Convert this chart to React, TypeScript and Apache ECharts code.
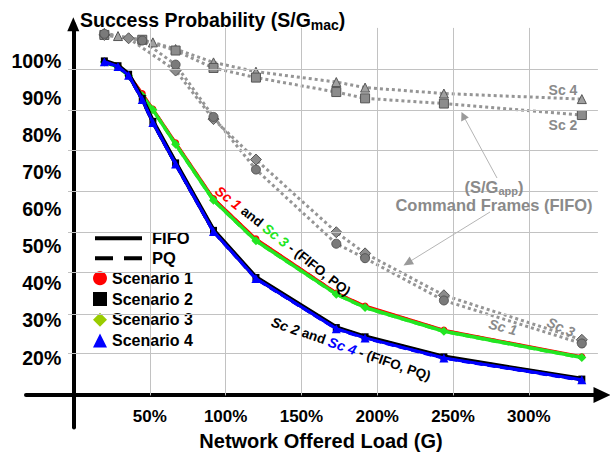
import React, { useEffect, useRef } from "react";
import * as echarts from "echarts";

// ---------- data ----------
const loadX = [20, 29, 36, 45, 52, 67, 92, 120, 173, 192, 244, 335];

const sc1Fifo = [99.9, 98.6, 96.3, 91.2, 87.0, 77.9, 62.9, 52.0, 37.4, 33.9, 27.4, 20.2];
const sc1Pq = [99.8, 98.5, 96.2, 91.0, 86.9, 77.8, 62.8, 51.9, 37.4, 33.8, 27.3, 20.1];
const sc3Fifo = [99.7, 98.4, 96.0, 90.6, 86.8, 77.5, 62.4, 51.5, 37.1, 33.5, 27.1, 20.0];
const sc3Pq = [99.6, 98.3, 95.9, 90.5, 86.7, 77.4, 62.3, 51.4, 37.0, 33.4, 27.0, 19.9];
const sc2Fifo = [100.0, 98.7, 96.4, 89.9, 83.7, 72.5, 54.3, 41.6, 28.1, 25.6, 20.2, 14.2];
const sc2Pq = [99.9, 98.6, 96.3, 89.8, 83.6, 72.4, 54.2, 41.5, 28.0, 25.5, 20.1, 14.1];
const sc4Fifo = [99.8, 98.5, 96.1, 89.6, 83.4, 72.2, 54.0, 41.3, 27.8, 25.3, 19.9, 14.0];
const sc4Pq = [99.7, 98.4, 96.0, 89.5, 83.3, 72.1, 53.9, 41.2, 27.7, 25.2, 19.8, 13.9];

// S/G_app command frames (FIFO)
const app1X = [20, 45, 67, 92, 120, 173, 192, 244, 335];
const app1Y = [107.3, 105.5, 99.0, 84.9, 70.7, 50.7, 46.8, 35.4, 23.8];
const app2X = [20, 45, 67, 92, 120, 173, 192, 244, 335];
const app2Y = [107.0, 105.7, 102.8, 98.1, 95.5, 91.6, 89.9, 88.5, 85.4];
const app3X = [20, 36, 67, 92, 120, 173, 192, 244, 335];
const app3Y = [107.0, 106.1, 97.4, 84.3, 73.4, 53.8, 48.1, 36.8, 24.8];
const app4X = [20, 29, 52, 67, 92, 120, 173, 192, 244, 335];
const app4Y = [107.6, 106.7, 105.0, 103.2, 99.6, 97.1, 94.3, 92.8, 91.2, 89.7];

const xTickLabels = [50, 100, 150, 200, 250, 300];
const yTickLabels = [20, 30, 40, 50, 60, 70, 80, 90, 100];
const yGridValues = [97.7, 86.7, 75.9, 64.8, 53.8, 42.9, 31.7, 21.2];
const xGridValues = [50, 100, 150, 200, 250, 300];

// ---------- layout ----------
const FONT = '"Liberation Sans", Arial, Helvetica, sans-serif';
const X_MIN = -31.7;
const X_MAX = 348.3;
const Y_MIN = 1.17;
const Y_MAX = 109.87;
const Y_AT_XAXIS = 9.8;
const GRID_TOP_V = 108.9;
const HGRID_X0 = -4;
const HGRID_X1 = 345.6;
const GREY = "#8a8a8a";

const pairs = (xs: number[], ys: number[]) => xs.map((x, i) => [x, ys[i]]);

function mainSeries(
  name: string,
  ys: number[],
  color: string,
  symbol: string,
  symbolSize: number | number[],
  width: number,
  z: number,
  dashed: boolean
) {
  return {
    name,
    type: "line",
    data: pairs(loadX, ys),
    symbol: dashed ? "none" : symbol,
    symbolSize,
    showSymbol: !dashed,
    z,
    lineStyle: { color, width, type: dashed ? [8, 5] : "solid" },
    itemStyle: { color, borderWidth: 0 },
    emphasis: { disabled: true },
  };
}

function appSeries(name: string, xs: number[], ys: number[], symbol: string, size: number, fill: string) {
  return {
    name,
    type: "line",
    data: pairs(xs, ys),
    symbol,
    symbolSize: size,
    z: 2,
    lineStyle: { color: "#959595", width: 3, type: [3, 3] },
    itemStyle: { color: fill, borderColor: "#555", borderWidth: 1 },
    emphasis: { disabled: true },
  };
}

export default function App() {
  const ref = useRef<HTMLDivElement>(null);

  useEffect(() => {
    if (!ref.current) return;
    const chart = echarts.init(ref.current, null, { renderer: "svg" });

    const gridLines = [
      ...yGridValues.map((v) => [{ coord: [HGRID_X0, v] }, { coord: [HGRID_X1, v] }]),
      ...xGridValues.map((v) => [{ coord: [v, Y_AT_XAXIS] }, { coord: [v, GRID_TOP_V] }]),
    ];

    const boldText = (size: number, color = "#000") => ({
      fontSize: size,
      fontWeight: "bold",
      fontFamily: FONT,
      color,
    });

    const option: any = {
      animation: false,
      backgroundColor: "#fff",
      title: {
        text: "{a|Success Probability (S/G}{b|mac}{a|)}",
        left: 80,
        top: 8,
        padding: 0,
        textStyle: {
          rich: {
            a: { ...boldText(19.5), lineHeight: 24 },
            b: { ...boldText(14), lineHeight: 18, verticalAlign: "bottom" },
          },
        },
      },
      grid: { left: 26, right: 8, top: 24.3, bottom: 24.3, containLabel: false },
      xAxis: {
        type: "value",
        min: X_MIN,
        max: X_MAX,
        position: "bottom",
        offset: -32.4,
        z: 3,
        axisLine: {
          show: true,
          onZero: false,
          symbol: ["none", "triangle"],
          symbolSize: [16, 17],
          lineStyle: { color: "#000", width: 4 },
        },
        axisTick: { show: false },
        splitLine: { show: false },
        axisLabel: {
          customValues: xTickLabels,
          formatter: (v: number) => `${v}%`,
          ...boldText(17),
          margin: 13,
        },
        name: "Network Offered Load (G)",
        nameLocation: "middle",
        nameGap: 36,
        nameTextStyle: { ...boldText(20), padding: [0, 0, 0, 14] },
      },
      yAxis: {
        type: "value",
        min: Y_MIN,
        max: Y_MAX,
        position: "left",
        offset: -47.3,
        z: 3,
        axisLine: {
          show: true,
          onZero: false,
          symbol: ["none", "triangle"],
          symbolSize: [12, 14],
          lineStyle: { color: "#000", width: 4 },
        },
        axisTick: { show: false },
        splitLine: { show: false },
        axisLabel: {
          customValues: yTickLabels,
          formatter: (v: number) => `${v}%`,
          ...boldText(19.5),
          margin: 12,
        },
      },
      legend: [
        {
          data: [
            { name: "FIFO", icon: "path://M0 0H47V4H0Z" },
            { name: "PQ", icon: "path://M0 0H18V4H0Z M29 0H47V4H29Z" },
          ],
          orient: "vertical",
          left: 95,
          top: 228.3,
          padding: 0,
          itemWidth: 47,
          itemHeight: 4,
          itemGap: 0,
          selectedMode: false,
          textStyle: { ...boldText(16.5), lineHeight: 20, padding: [0, 0, 0, 5] },
        },
        {
          data: [
            { name: "Scenario 1", icon: "circle", itemStyle: { color: "#ff0000" } },
            { name: "Scenario 2", icon: "rect", itemStyle: { color: "#000000" } },
            { name: "Scenario 3", icon: "diamond", itemStyle: { color: "#99cc00" } },
            { name: "Scenario 4", icon: "triangle", itemStyle: { color: "#0000ff" } },
          ],
          orient: "vertical",
          left: 93,
          top: 270.3,
          padding: 0,
          itemWidth: 14,
          itemHeight: 14,
          itemGap: 4.7,
          selectedMode: false,
          textStyle: { ...boldText(16), lineHeight: 14 },
        },
      ],
      series: [
        {
          name: "grid",
          type: "line",
          data: [],
          z: 1,
          silent: true,
          markLine: {
            silent: true,
            symbol: ["none", "none"],
            label: { show: false },
            lineStyle: { color: "#c2c2c2", width: 1, type: "solid" },
            emphasis: { disabled: true },
            data: gridLines,
          },
        },
        { name: "FIFO", type: "line", data: [], symbol: "none", lineStyle: { color: "#000", width: 4 }, itemStyle: { color: "#000" } },
        { name: "PQ", type: "line", data: [], symbol: "none", lineStyle: { color: "#000", width: 4, type: [18, 11] }, itemStyle: { color: "#000" } },
        appSeries("Sc 4 app", app4X, app4Y, "triangle", 9, "#a0a0a0"),
        appSeries("Sc 2 app", app2X, app2Y, "rect", 9, "#8c8c8c"),
        appSeries("Sc 3 app", app3X, app3Y, "diamond", 11, "#8c8c8c"),
        appSeries("Sc 1 app", app1X, app1Y, "circle", 9, "#7a7a7a"),
        mainSeries("Sc 1 PQ", sc1Pq, "#ff0000", "circle", 7, 3, 4, true),
        mainSeries("Scenario 1", sc1Fifo, "#ff0000", "circle", 7, 3, 5, false),
        mainSeries("Sc 3 PQ", sc3Pq, "#22e622", "diamond", 9, 3, 6, true),
        mainSeries("Scenario 3", sc3Fifo, "#22e622", "diamond", [9, 9], 3.5, 7, false),
        mainSeries("Sc 2 PQ", sc2Pq, "#000000", "rect", 7, 4, 8, true),
        mainSeries("Scenario 2", sc2Fifo, "#000000", "rect", 7, 4.5, 9, false),
        mainSeries("Sc 4 PQ", sc4Pq, "#0000ff", "triangle", 9, 3, 10, true),
        mainSeries("Scenario 4", sc4Fifo, "#0000ff", "triangle", 9, 3, 11, false),
      ],
      graphic: [
        {
          type: "text",
          x: 283,
          y: 241,
          rotation: -0.67,
          z: 20,
          style: {
            text: "{r|Sc 1} {k|and} {g|Sc 3} {k|- (FIFO, PQ)}",
            align: "center",
            verticalAlign: "middle",
            fontSize: 13.5,
            fontWeight: "bold",
            fontFamily: FONT,
            fill: "#000",
            rich: {
              r: { fill: "#ff0000", fontSize: 14, fontWeight: "bold", fontStyle: "italic", fontFamily: FONT },
              g: { fill: "#22e622", fontSize: 14, fontWeight: "bold", fontStyle: "italic", fontFamily: FONT },
              k: { fill: "#000", fontSize: 13.5, fontWeight: "bold", fontFamily: FONT },
            },
          },
        },
        {
          type: "text",
          x: 351,
          y: 349,
          rotation: -0.335,
          z: 20,
          style: {
            text: "{i|Sc 2} {k|and} {b|Sc 4} {k|- (FIFO, PQ)}",
            align: "center",
            verticalAlign: "middle",
            fontSize: 13.5,
            fontWeight: "bold",
            fontFamily: FONT,
            fill: "#000",
            rich: {
              i: { fill: "#000", fontSize: 14, fontWeight: "bold", fontStyle: "italic", fontFamily: FONT },
              b: { fill: "#0000ff", fontSize: 14, fontWeight: "bold", fontStyle: "italic", fontFamily: FONT },
              k: { fill: "#000", fontSize: 13.5, fontWeight: "bold", fontFamily: FONT },
            },
          },
        },
        {
          type: "text",
          x: 503,
          y: 327,
          rotation: -0.26,
          z: 20,
          style: { text: "Sc 1", align: "center", verticalAlign: "middle", fontSize: 14, fontWeight: "bold", fontStyle: "italic", fontFamily: FONT, fill: GREY },
        },
        {
          type: "text",
          x: 561,
          y: 327,
          rotation: -0.42,
          z: 20,
          style: { text: "Sc 3", align: "center", verticalAlign: "middle", fontSize: 14, fontWeight: "bold", fontStyle: "italic", fontFamily: FONT, fill: GREY },
        },
        {
          type: "text",
          x: 563,
          y: 90,
          z: 20,
          style: { text: "Sc 4", align: "center", verticalAlign: "middle", fontSize: 14, fontWeight: "bold", fontFamily: FONT, fill: GREY },
        },
        {
          type: "text",
          x: 563,
          y: 125,
          z: 20,
          style: { text: "Sc 2", align: "center", verticalAlign: "middle", fontSize: 14, fontWeight: "bold", fontFamily: FONT, fill: GREY },
        },
        {
          type: "text",
          x: 494,
          y: 186.5,
          z: 20,
          style: {
            text: "{a|(S/G}{s|app}{a|)}",
            align: "center",
            verticalAlign: "middle",
            rich: {
              a: { fill: GREY, fontSize: 16.5, fontWeight: "bold", fontFamily: FONT, lineHeight: 20 },
              s: { fill: GREY, fontSize: 11, fontWeight: "bold", fontFamily: FONT, lineHeight: 10, verticalAlign: "bottom" },
            },
          },
        },
        {
          type: "text",
          x: 494,
          y: 205,
          z: 20,
          style: { text: "Command Frames (FIFO)", align: "center", verticalAlign: "middle", fontSize: 16.5, fontWeight: "bold", fontFamily: FONT, fill: GREY },
        },
        {
          type: "line",
          z: 19,
          shape: { x1: 497, y1: 178, x2: 464, y2: 117 },
          style: { stroke: "#b5b5b5", lineWidth: 1 },
        },
        {
          type: "polygon",
          z: 19,
          shape: { points: [[461.5, 112], [468.8, 117.5], [461.2, 121.5]] },
          style: { fill: "#9a9a9a" },
        },
        {
          type: "line",
          z: 19,
          shape: { x1: 490, y1: 212, x2: 409, y2: 262 },
          style: { stroke: "#b5b5b5", lineWidth: 1 },
        },
        {
          type: "polygon",
          z: 19,
          shape: { points: [[403.5, 265.5], [414, 264.2], [409.6, 256.6]] },
          style: { fill: "#9a9a9a" },
        },
      ],
    };

    chart.setOption(option);
    return () => chart.dispose();
  }, []);

  return (
    <div
      ref={ref}
      style={{ position: "fixed", left: 0, top: 0, width: 610, height: 456, background: "#fff" }}
    />
  );
}
